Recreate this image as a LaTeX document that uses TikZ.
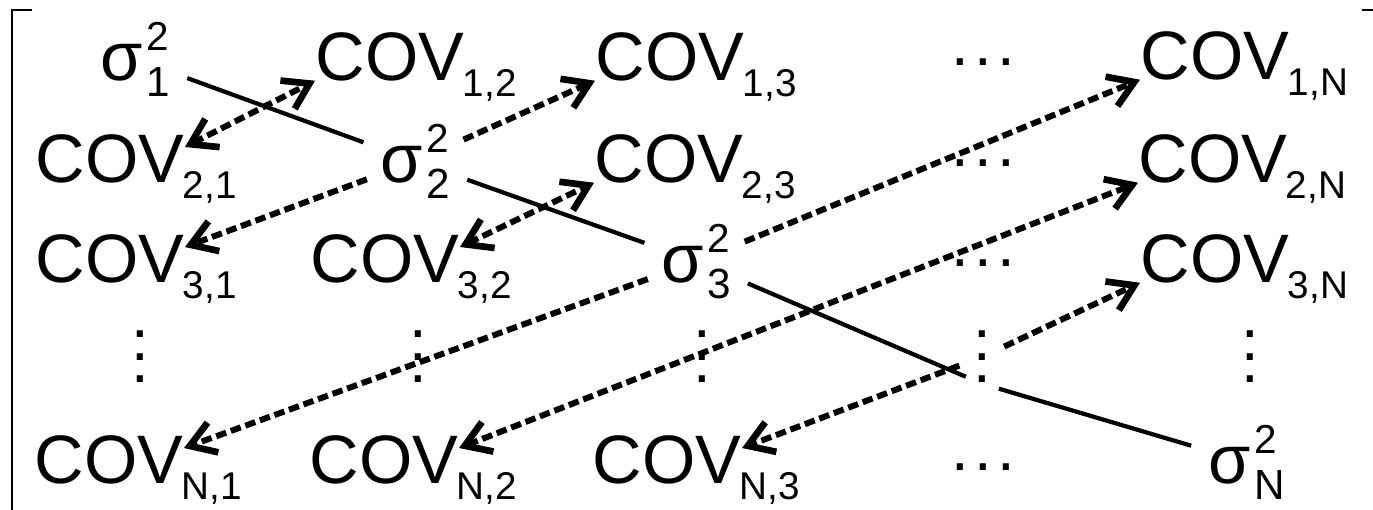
\documentclass[tikz,border=0pt]{standalone}
\usepackage{fontspec}
\setmainfont{Liberation Sans}
\usetikzlibrary{arrows.meta}
\newcommand{\subsz}{\fontsize{11pt}{11pt}\selectfont}
\newcommand{\supsz}{\fontsize{11.5pt}{11.5pt}\selectfont}
\newcommand{\covar}[1]{COV\rlap{\kern-0.4pt\smash{\raisebox{-4.6pt}{\subsz #1}}}}
\newcommand{\sigsq}[1]{σ\kern1pt\rlap{\raisebox{8.4pt}{\supsz 2}}\raisebox{-4.6pt}{\fontsize{12pt}{12pt}\selectfont #1}}
\newcommand{\rowdots}{\fontsize{18pt}{18pt}\selectfont.\kern1.5pt.\kern1.5pt.}
\newcommand{\coldots}{\fontsize{18pt}{18pt}\selectfont\vbox{\offinterlineskip\hbox{.}\kern4.5pt\hbox{.}\kern4.5pt\hbox{.}}}

\begin{document}
\begin{tikzpicture}[x=0.01cm,y=-0.01cm,
    entry/.style={anchor=base west,inner sep=0pt,font=\fontsize{19.5pt}{20pt}\selectfont,text height=19.9pt,text depth=0pt},
    var/.style={anchor=base west,inner sep=0pt,font=\fontsize{19.5pt}{20pt}\selectfont},
    gap/.style={inner sep=0pt},
    >={Straight Barb[length=7pt,width=9pt,line width=1.9pt]},
    link/.style={line width=1.2pt,shorten <=5pt,shorten >=5pt},
    pair/.style={->,line width=1.7pt,dash pattern=on 3pt off 1.4pt}
  ]
  \useasboundingbox (0,0) rectangle (1373,509);

  % bracket
  \draw[line width=0.6pt] (32,10) -- (12,10) -- (12,515);
  \draw[line width=0.6pt] (1362,10) -- (1375,10);

  % row 1
  \node[var] (s1) at (100,80) {\sigsq{1}};
  \node[entry] (c12) at (315,80) {\covar{1,2}};
  \node[entry] (c13) at (595,80) {\covar{1,3}};
  \node[gap] (h1) at (983,62) {\rowdots};
  \node[entry] (c1n) at (1140,79) {\covar{1,N}};

  % row 2
  \node[entry] (c21) at (35,182) {\covar{2,1}};
  \node[var] (s2) at (380,182) {\sigsq{2}};
  \node[entry] (c23) at (594,182) {\covar{2,3}};
  \node[gap] (h2) at (983,163) {\rowdots};
  \node[entry] (c2n) at (1138,182) {\covar{2,N}};

  % row 3
  \node[entry] (c31) at (35,282) {\covar{3,1}};
  \node[entry] (c32) at (310,282) {\covar{3,2}};
  \node[var] (s3) at (661,282) {\sigsq{3}};
  \node[gap] (h3) at (983,263) {\rowdots};
  \node[entry] (c3n) at (1140,282) {\covar{3,N}};

  % vertical dots
  \node[gap] (v1) at (140,357) {\coldots};
  \node[gap] (v2) at (418,357) {\coldots};
  \node[gap] (v3) at (702,357) {\coldots};
  \node[gap] (dv) at (982,357) {\coldots};
  \node[gap] (vn) at (1250,357) {\coldots};

  % row N
  \node[entry] (cn1) at (34,483) {\covar{N,1}};
  \node[entry] (cn2) at (309,483) {\covar{N,2}};
  \node[entry] (cn3) at (592,483) {\covar{N,3}};
  \node[gap] (h5) at (983,467) {\rowdots};
  \node[var] (sn) at (1208,483) {\sigsq{N}};

  % diagonal
  \draw[link] (s1) -- (s2);
  \draw[link] (s2) -- (s3);
  \draw[link] (s3) -- (dv.south);
  \draw[link] (dv.south) -- (sn);

  % symmetric pairs
  \draw[pair,<->] (c21.east) -- (c12.south west);
  \draw[pair,<->] (c32.east) -- (c23.south west);
  \draw[pair,<->] (cn2.east) -- (c2n.south west);
  \draw[pair,shorten <=4pt] (s2) -- (c31.east);
  \draw[pair,shorten <=4pt] (s2) -- (c13.south west);
  \draw[pair,shorten <=4pt] (s3) -- (cn1.east);
  \draw[pair,shorten <=4pt] (s3) -- (c1n.south west);
  \draw[pair,shorten <=4pt] (dv) -- (cn3.east);
  \draw[pair,shorten <=4pt] (dv) -- (c3n.south west);
\end{tikzpicture}
\end{document}
